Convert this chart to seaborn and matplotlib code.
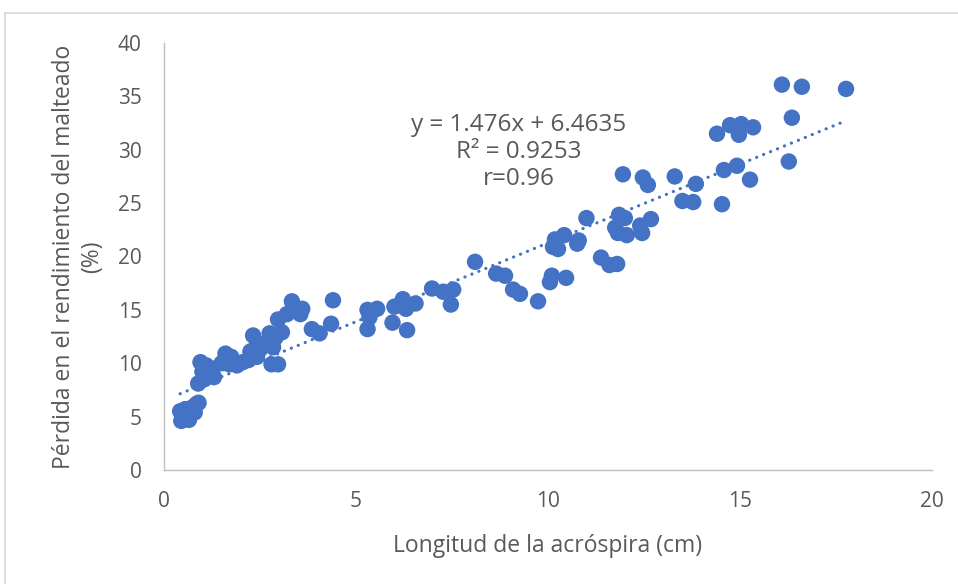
import numpy as np
import pandas as pd
import matplotlib
matplotlib.use('Agg')
import matplotlib.pyplot as plt
import seaborn as sns
from matplotlib.patches import Rectangle

# Data
longitud = [0.42, 0.45, 0.50, 0.55, 0.65, 0.70, 0.75, 0.80, 0.85, 0.90, 0.60, 0.48,
            0.89, 0.95, 1.10, 1.20, 1.30, 1.05, 1.00, 1.25, 1.60, 1.75, 1.70, 1.90, 2.05, 1.50,
            2.32, 2.42, 2.25, 2.42, 2.60, 2.70, 2.84, 2.90, 2.97, 2.80, 2.97, 3.07, 2.75, 2.50, 2.20,
            3.33, 3.60, 3.55, 3.20, 3.85, 4.05, 4.35, 4.40,
            5.30, 5.55, 5.30, 5.35, 5.95, 6.33, 6.00, 6.22, 6.30, 6.55,
            6.98, 7.27, 7.53, 7.47,
            8.10, 8.65, 8.88, 9.09, 9.27, 9.74, 10.10, 10.05, 10.47,
            10.18, 10.42, 10.13, 10.26, 10.76, 10.80, 11.00,
            11.38, 11.60, 11.80,
            11.95, 12.47, 12.60, 13.30, 13.85, 13.50, 13.78,
            11.85, 12.00, 11.75, 11.82, 12.05, 12.40, 12.68, 12.45,
            16.09, 16.61, 17.76, 16.35, 16.27, 14.40, 14.74, 15.03, 14.97, 15.34, 14.58, 14.92, 15.26, 14.53]
perdida = [5.5, 4.6, 5.0, 5.7, 4.7, 5.3, 5.9, 5.4, 6.2, 6.3, 5.2, 5.3,
           8.1, 10.1, 9.8, 9.0, 8.7, 8.5, 9.2, 9.5, 10.9, 10.6, 9.9, 9.8, 10.1, 10.0,
           12.6, 11.7, 11.1, 10.6, 11.8, 12.0, 11.5, 12.4, 14.1, 9.9, 9.9, 12.9, 12.8, 11.3, 10.3,
           15.8, 15.1, 14.6, 14.6, 13.2, 12.8, 13.7, 15.9,
           15.0, 15.1, 13.2, 14.3, 13.8, 13.1, 15.3, 16.0, 15.1, 15.6,
           17.0, 16.7, 16.9, 15.5,
           19.5, 18.4, 18.2, 16.9, 16.5, 15.8, 18.2, 17.6, 18.0,
           21.6, 22.0, 20.9, 20.7, 21.2, 21.5, 23.6,
           19.9, 19.2, 19.3,
           27.7, 27.4, 26.7, 27.5, 26.8, 25.2, 25.1,
           23.9, 23.6, 22.7, 22.2, 22.0, 22.9, 23.5, 22.2,
           36.1, 35.9, 35.7, 33.0, 28.9, 31.5, 32.3, 32.4, 31.4, 32.1, 28.1, 28.5, 27.2, 24.9]

x_ticks = [0, 5, 10, 15, 20]
y_ticks = [0, 5, 10, 15, 20, 25, 30, 35, 40]
ecuacion = "y = 1.476x + 6.4635\nR² = 0.9253\nr=0.96"

df = pd.DataFrame({'longitud': longitud, 'perdida': perdida})

sns.set_style("white")
plt.rcParams['font.family'] = ['Open Sans', 'DejaVu Sans']

azul = '#4472C4'
gris = '#595959'

fig = plt.figure(figsize=(9.58, 5.84), dpi=100)
ax = fig.add_axes([0.1712, 0.1952, 0.8017, 0.7312])

# outer chart border
fig.patches.append(Rectangle((5 / 958, -0.1), 1.2, 1 - 13 / 584 + 0.1,
                             transform=fig.transFigure, fill=False,
                             edgecolor='#D9D9D9', linewidth=1.3))

sns.scatterplot(data=df, x='longitud', y='perdida', color=azul, s=140,
                edgecolor='none', linewidth=0, ax=ax, zorder=3)

# linear trend line
m, b = np.polyfit(df['longitud'], df['perdida'], 1)
xs = np.array([df['longitud'].min(), df['longitud'].max()])
ax.plot(xs, m * xs + b, color=azul, linewidth=2.3,
        linestyle=(0, (0.05, 2.3)), dash_capstyle='round', zorder=2)

ax.text(9.245, 29.8, ecuacion, ha='center', va='center', fontsize=17.5,
        color=gris, linespacing=1.15)

ax.set_xlim(0, 20)
ax.set_ylim(0, 40)
ax.set_xticks(x_ticks)
ax.set_yticks(y_ticks)
ax.tick_params(axis='both', labelsize=15, colors=gris, length=0)
ax.tick_params(axis='y', pad=16)
ax.tick_params(axis='x', pad=15)
ax.set_xlabel("Longitud de la acróspira (cm)", fontsize=16.5, color=gris, labelpad=16)
ax.set_ylabel("Pérdida en el rendimiento del malteado\n(%)", fontsize=16.5,
              color=gris, labelpad=10, linespacing=1.2)

for side in ['top', 'right']:
    ax.spines[side].set_visible(False)
for side in ['left', 'bottom']:
    ax.spines[side].set_color('#BFBFBF')
    ax.spines[side].set_linewidth(1.0)

fig.savefig("out.png", dpi=100)
